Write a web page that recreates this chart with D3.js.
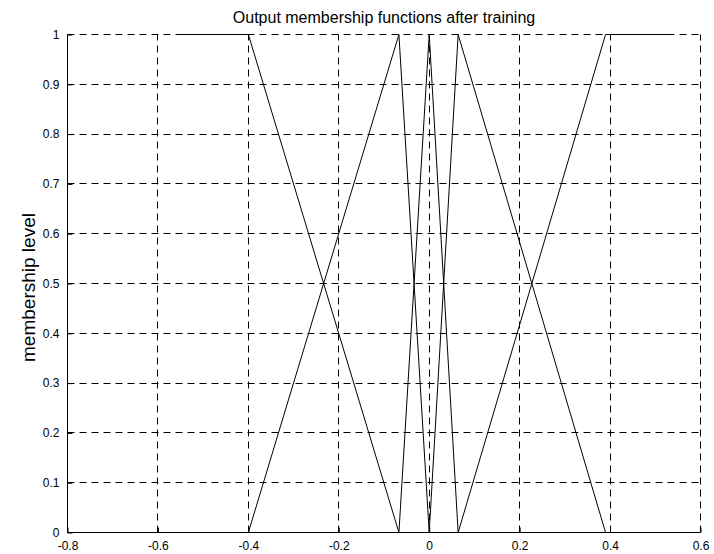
<!DOCTYPE html>
<html>
<head>
<meta charset="utf-8">
<script src="https://cdn.jsdelivr.net/npm/d3@7"></script>
<style>
  html, body { margin: 0; padding: 0; background: #fff; }
  svg { display: block; font-family: "Liberation Sans", Arial, Helvetica, sans-serif; }
</style>
</head>
<body>
<svg id="chart" width="714" height="554"></svg>
<script>
// Output membership functions: breakpoints (x) and membership levels (y)
const mf1X = [-0.56, -0.40, -0.067];
const mf1Y = [1, 1, 0];
const mf2X = [-0.40, -0.067, 0.0];
const mf2Y = [0, 1, 0];
const mf3X = [-0.067, 0.0, 0.064];
const mf3Y = [0, 1, 0];
const mf4X = [0.0, 0.064, 0.39];
const mf4Y = [0, 1, 0];
const mf5X = [0.064, 0.39, 0.54];
const mf5Y = [0, 1, 1];

const xTicks = [-0.8, -0.6, -0.4, -0.2, 0, 0.2, 0.4, 0.6];
const yTicks = [0, 0.1, 0.2, 0.3, 0.4, 0.5, 0.6, 0.7, 0.8, 0.9, 1];

const titleText = "Output membership functions after training";
const yLabelText = "membership level";

const svg = d3.select("#chart");
const plotLeft = 67.5, plotRight = 700.5, plotTop = 34.5, plotBottom = 532.5;

const x = d3.scaleLinear().domain([-0.8, 0.6]).range([plotLeft, plotRight]);
const y = d3.scaleLinear().domain([0, 1]).range([plotBottom, plotTop]);

// dashed grid
const grid = svg.append("g").attr("stroke", "#000").attr("stroke-width", 1)
  .attr("stroke-dasharray", "7,5").attr("fill", "none");
xTicks.forEach(t => {
  if (t === -0.8) return;
  const px = Math.floor(x(t)) + 0.5;
  grid.append("line").attr("x1", px).attr("x2", px).attr("y1", plotBottom).attr("y2", plotTop);
});
yTicks.forEach(t => {
  if (t === 0) return;
  const py = Math.floor(y(t)) + 0.5;
  grid.append("line").attr("x1", plotLeft).attr("x2", plotRight).attr("y1", py).attr("y2", py);
});

// membership function curves
const line = d3.line().x(d => x(d[0])).y(d => y(d[1]));
const mfs = [[mf1X, mf1Y], [mf2X, mf2Y], [mf3X, mf3Y], [mf4X, mf4Y], [mf5X, mf5Y]];
svg.append("g").selectAll("path").data(mfs).join("path")
  .attr("d", ([xs, ys]) => line(xs.map((v, i) => [v, ys[i]])))
  .attr("fill", "none").attr("stroke", "#000").attr("stroke-width", 1);

// axes with inward ticks
const fmt = d => String(+(+d).toFixed(1));
const xAxis = d3.axisBottom(x).tickValues(xTicks).tickSize(-5).tickPadding(9).tickFormat(fmt);
const gx = svg.append("g").attr("transform", `translate(0,${plotBottom})`).call(xAxis);
gx.select(".domain").attr("d", `M${plotLeft},0H${plotRight}`);

const yAxis = d3.axisLeft(y).tickValues(yTicks).tickSize(-5).tickPadding(8).tickFormat(fmt);
const gy = svg.append("g").attr("transform", `translate(${plotLeft},0)`).call(yAxis);
gy.select(".domain").attr("d", `M0,${plotBottom}V${plotTop}`);

svg.selectAll(".tick text").attr("font-size", 12).attr("fill", "#000")
  .attr("font-family", "Liberation Sans, Arial, sans-serif");
svg.selectAll(".domain, .tick line").attr("stroke", "#000");

// title and y label
svg.append("text").attr("x", (plotLeft + plotRight) / 2).attr("y", 23)
  .attr("text-anchor", "middle").attr("font-size", 16).text(titleText);
svg.append("text").attr("transform", `translate(35,${(plotTop + plotBottom) / 2 + 4}) rotate(-90)`)
  .attr("text-anchor", "middle").attr("font-size", 19).text(yLabelText);
</script>
</body>
</html>
